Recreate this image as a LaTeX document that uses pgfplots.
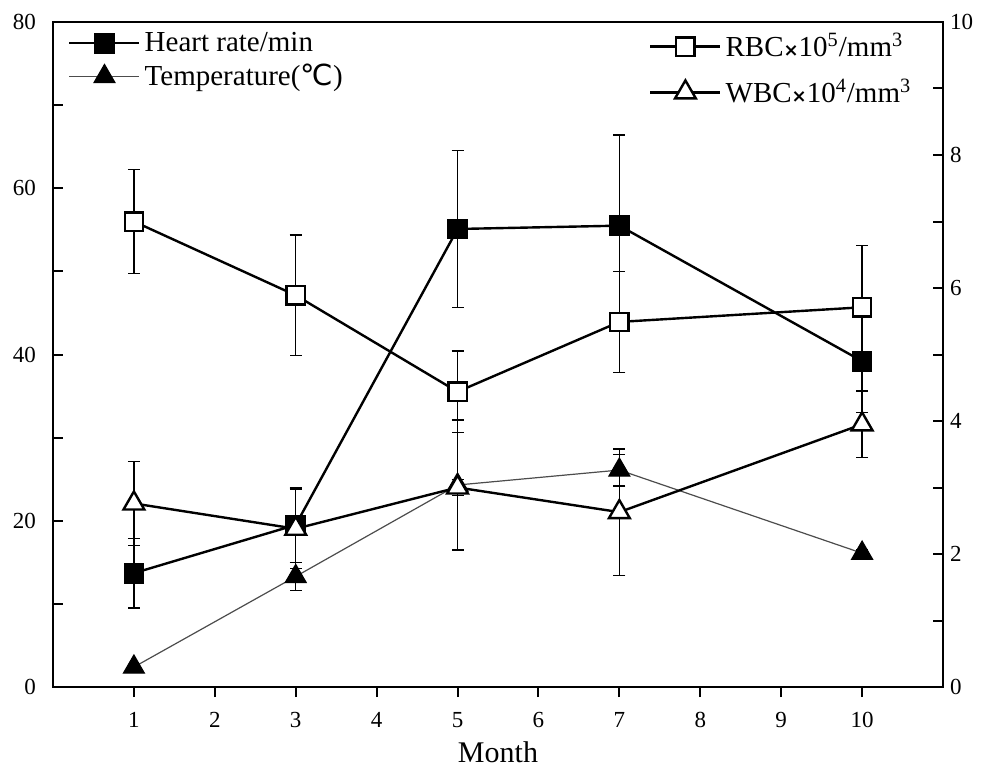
\documentclass[border=0pt]{standalone}
\usepackage{fontspec}
\setmainfont{Liberation Serif}
\newfontfamily\symfont{DejaVu Sans}
\usepackage{pgfplots}
\pgfplotsset{compat=1.18}

\begin{document}
\begin{tikzpicture}
\pgfplotsset{
  every axis/.append style={
    scale only axis, width=445pt, height=332.5pt,
    xmin=0, xmax=11,
    /pgf/number format/assume math mode=true,
    tick label style={font=\fontsize{11.5}{13}\selectfont},
    label style={font=\fontsize{15}{18}\selectfont},
    axis line style={line width=1.4pt},
    major tick length=5pt, minor tick length=5pt,
    every tick/.style={black, line width=1pt},
    tick align=inside,
    legend cell align=left,
    legend style={draw=none, fill=none, font=\fontsize{14.5}{17}\selectfont},
    legend image code/.code={\draw[mark repeat=2,mark phase=2] plot coordinates {(0pt,0pt)(17.5pt,0pt)(35pt,0pt)};},
  },
  errs/.style={error bars/.cd, y dir=both, y explicit,
    error bar style={line width=0.7pt, black, solid},
    error mark options={rotate=90, mark size=3pt, line width=0.7pt, black}},
}
% left axis: heart rate, temperature
\begin{axis}[
  ymin=0, ymax=80, ytick={0,20,...,80}, minor ytick={10,30,50,70},
  xtick={1,...,10}, xtick pos=bottom, ytick pos=left,
  x tick style={yshift=-5pt},
  x tick label style={yshift=-9pt},
  y tick label style={xshift=-5pt},
  xlabel={Month},
  legend style={at={(0.01,0.9975)}, anchor=north west, row sep=1pt},
]
\addplot[black, line width=1.2pt, mark=square*, mark size=4.6pt, mark options={solid, fill=black}, errs]
  coordinates {(1,13.7) +- (0,4.2) (3,19.5) +- (0,4.5) (5,55.1) +- (0,9.45) (7,55.5) +- (0,10.9) (10,39.2) +- (0,6.2)};
\addlegendentry{Heart rate/min}
\addplot[black!70, line width=0.6pt, mark=triangle*, mark size=6pt, mark options={solid, black, fill=black}, errs]
  coordinates {(1,2.4) +- (0,0) (3,13.3) +- (0,1.7) (5,24.3) +- (0,7.8) (7,26.1) +- (0,1.9) (10,16.1) +- (0,0.4)};
\addlegendentry{Temperature({\symfont ℃})}
\end{axis}
% right axis: RBC, WBC
\begin{axis}[
  ymin=0, ymax=10, ytick={0,2,...,10}, minor ytick={1,3,5,7,9},
  axis y line*=right, axis x line=none,
  legend style={at={(0.976,0.996)}, anchor=north east, row sep=5.5pt},
]
\addplot[black, line width=1.2pt, mark=square*, mark size=4.6pt, mark options={solid, draw=black, fill=white}, errs]
  coordinates {(1,7.0) +- (0,0.78) (3,5.89) +- (0,0.905) (5,4.44) +- (0,0.61) (7,5.49) +- (0,0.76) (10,5.71) +- (0,0.93)};
\addlegendentry{RBC{\symfont\bfseries\small ×}10\textsuperscript{5}/mm\textsuperscript{3}}
\addplot[black, line width=1.2pt, mark=triangle*, mark size=6pt, mark options={solid, draw=black, fill=white}, errs]
  coordinates {(1,2.76) +- (0,0.63) (3,2.38) +- (0,0.6) (5,3.0) +- (0,0.12) (7,2.63) +- (0,0.95) (10,3.95) +- (0,0.5)};
\addlegendentry{WBC{\symfont\bfseries\small ×}10\textsuperscript{4}/mm\textsuperscript{3}}
\end{axis}
\pgfresetboundingbox
\path (-26.5pt,-40pt) rectangle (468.5pt,343.5pt);
\end{tikzpicture}
\end{document}
